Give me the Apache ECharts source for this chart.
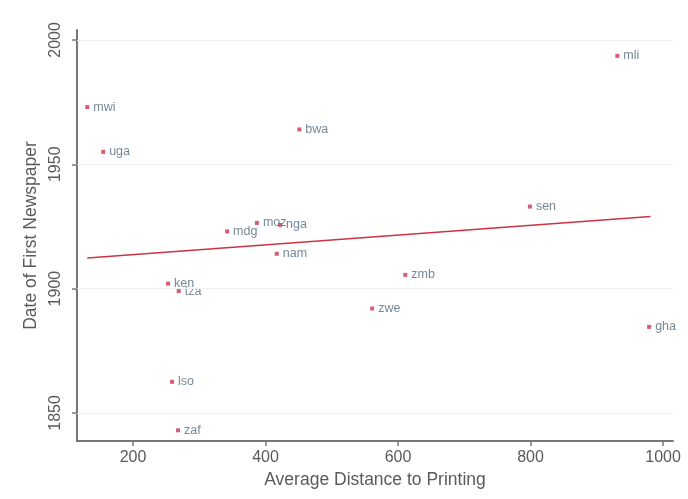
<!DOCTYPE html>
<html>
<head>
<meta charset="utf-8">
<script src="https://cdn.jsdelivr.net/npm/echarts@6/dist/echarts.min.js"></script>
<style>html,body{margin:0;padding:0;background:#fff}#c{width:688px;height:499px}</style>
</head>
<body>
<div id="c"></div>
<script>
const countries = ["mwi","uga","bwa","mli","sen","mdg","moz","nga","nam","ken","tza","lso","zaf","zmb","zwe","gha"];
const distance  = [131, 155, 451, 931, 799, 342, 387, 422, 417, 253, 269, 259, 268, 611, 561, 979];
const firstYear = [1973, 1955, 1964, 1993.6, 1933, 1923, 1926.4, 1925.6, 1914, 1902, 1899, 1862.5, 1843, 1905.5, 1892, 1884.6];
const fitX = [131, 981];
const fitY = [1912.3, 1929];
const xTicks = [200, 400, 600, 800, 1000];
const yTicks = [1850, 1900, 1950, 2000];

const points = countries.map((c, i) => ({ value: [distance[i], firstYear[i]], name: c }));
const fitLine = fitX.map((x, i) => [x, fitY[i]]);

const font = "Liberation Sans, Arial, sans-serif";
const chart = echarts.init(document.getElementById('c'), null, { renderer: 'canvas' });
chart.setOption({
  animation: false,
  backgroundColor: '#ffffff',
  grid: { left: 77, right: 15, top: 30, bottom: 58 },
  xAxis: {
    type: 'value', min: 115.5, max: 1015,
    name: 'Average Distance to Printing', nameLocation: 'middle', nameGap: 29,
    nameTextStyle: { fontFamily: font, fontSize: 17.5, color: '#5a5a5a' },
    axisLine: { show: true, onZero: false, lineStyle: { color: '#777', width: 2 } },
    axisTick: { show: true, length: 5, customValues: xTicks, lineStyle: { color: '#777', width: 1.5 } },
    axisLabel: { customValues: xTicks, margin: 9, fontFamily: font, fontSize: 16, color: '#5a5a5a', formatter: v => String(v) },
    splitLine: { show: false }
  },
  yAxis: {
    type: 'value', min: 1838.7, max: 2004,
    name: 'Date of First Newspaper', nameLocation: 'middle', nameGap: 32,
    nameTextStyle: { fontFamily: font, fontSize: 17.5, color: '#5a5a5a' },
    axisLine: { show: true, onZero: false, lineStyle: { color: '#777', width: 2 } },
    axisTick: { show: true, length: 5, customValues: yTicks, lineStyle: { color: '#777', width: 1.5 } },
    axisLabel: { customValues: yTicks, rotate: 90, margin: 13, fontFamily: font, fontSize: 16, color: '#5a5a5a', formatter: v => String(v) },
    splitLine: { show: false }
  },
  series: [
    {
      type: 'line', data: fitLine, symbol: 'none', silent: true,
      lineStyle: { color: '#cc3344', width: 1.5 },
      markLine: {
        silent: true, symbol: 'none', label: { show: false },
        lineStyle: { color: '#f0f0f0', width: 1, type: 'solid' },
        data: yTicks.map(v => ({ yAxis: v }))
      },
      z: 3
    },
    {
      type: 'scatter', data: points, symbol: 'rect', symbolSize: 4,
      itemStyle: { color: '#cc3355' },
      label: {
        show: true, position: 'right', distance: 4,
        formatter: p => p.name,
        fontFamily: font, fontSize: 12.5, color: '#526a7e'
      },
      z: 4
    }
  ]
});
</script>
</body>
</html>
